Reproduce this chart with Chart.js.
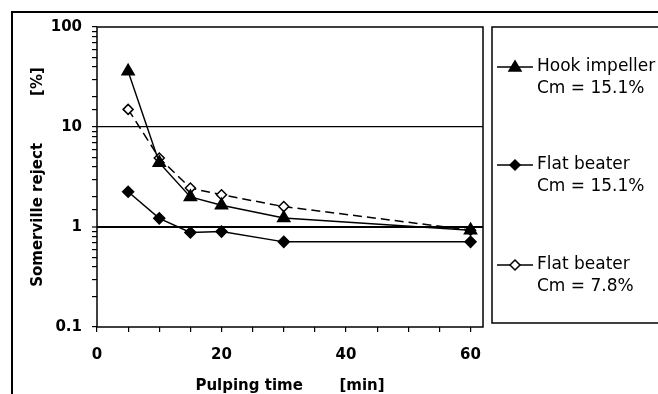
<!DOCTYPE html>
<html>
<head>
<meta charset="utf-8">
<script src="https://cdn.jsdelivr.net/npm/chart.js@4/dist/chart.umd.min.js"></script>
<style>
  html, body { margin: 0; padding: 0; background: #fff; }
  #wrap { width: 658px; height: 394px; position: relative; }
</style>
</head>
<body>
<div id="wrap"><canvas id="c" width="658" height="394"></canvas></div>
<script>
// pulping time [min]
const times = [5, 10, 15, 20, 30, 60];
// Somerville reject [%]
const hookImpeller = [36, 4.4, 2.0, 1.65, 1.23, 0.93];
const flatBeater151 = [2.25, 1.22, 0.88, 0.9, 0.71, 0.71];
const flatBeater78 = [15, 4.9, 2.45, 2.1, 1.6, 0.93];

const yMajor = [0.1, 1, 10, 100];
const xTicks = [0, 5, 10, 15, 20, 25, 30, 35, 40, 45, 50, 55, 60];
const xLabels = [0, 20, 40, 60];

const legendItems = [
  { lines: ['Hook impeller', 'Cm = 15.1%'], style: 'triangle', fill: '#000' },
  { lines: ['Flat beater', 'Cm = 15.1%'], style: 'diamond', fill: '#000' },
  { lines: ['Flat beater', 'Cm = 7.8%'], style: 'diamond', fill: '#fff' }
];

const FONT = 'DejaVu Sans';
const toXY = (ys) => times.map((t, i) => ({ x: t, y: ys[i] }));
const isMajor = (v) => yMajor.some((m) => Math.abs(v - m) < m * 1e-6);

function marker(ctx, style, fill, x, y) {
  ctx.save();
  ctx.fillStyle = fill;
  ctx.strokeStyle = '#000';
  ctx.lineWidth = 1.5;
  ctx.setLineDash([]);
  ctx.beginPath();
  if (style === 'triangle') {
    ctx.moveTo(x, y - 6); ctx.lineTo(x + 6, y + 4); ctx.lineTo(x - 6, y + 4);
  } else {
    ctx.moveTo(x, y - 5); ctx.lineTo(x + 5, y); ctx.lineTo(x, y + 5); ctx.lineTo(x - 5, y);
  }
  ctx.closePath();
  ctx.fill();
  ctx.stroke();
  ctx.restore();
}

const frames = {
  id: 'frames',
  beforeDraw(chart) {
    const ctx = chart.ctx;
    ctx.save();
    ctx.fillStyle = '#fff';
    ctx.fillRect(0, 0, chart.width, chart.height);
    ctx.restore();
  },
  afterDraw(chart) {
    const { ctx, chartArea: a } = chart;
    ctx.save();
    ctx.strokeStyle = '#000';
    // outer frame
    ctx.lineWidth = 2;
    ctx.beginPath();
    ctx.moveTo(12, 400); ctx.lineTo(12, 12); ctx.lineTo(660, 12);
    ctx.stroke();
    // plot frame
    ctx.lineWidth = 1.5;
    ctx.strokeRect(a.left, a.top, a.right - a.left, a.bottom - a.top);
    // legend box
    ctx.strokeRect(492, 27, 180, 296);
    const rows = [67, 165, 265];
    ctx.font = '17px "' + FONT + '"';
    ctx.textBaseline = 'middle';
    ctx.fillStyle = '#000';
    legendItems.forEach((it, i) => {
      const y = rows[i];
      ctx.lineWidth = 1.5;
      ctx.beginPath();
      ctx.moveTo(497, y); ctx.lineTo(533, y);
      ctx.stroke();
      marker(ctx, it.style, it.fill, 515, y);
      ctx.fillStyle = '#000';
      ctx.fillText(it.lines[0], 537, y);
      ctx.fillText(it.lines[1], 537, y + 22);
    });
    ctx.restore();
  }
};

new Chart(document.getElementById('c').getContext('2d'), {
  type: 'scatter',
  data: {
    datasets: [
      {
        label: 'Hook impeller Cm = 15.1%',
        data: toXY(hookImpeller),
        showLine: true,
        borderColor: '#000',
        backgroundColor: '#000',
        borderWidth: 1.5,
        pointStyle: 'triangle',
        pointRadius: 7,
        pointBorderColor: '#000',
        pointBackgroundColor: '#000'
      },
      {
        label: 'Flat beater Cm = 15.1%',
        data: toXY(flatBeater151),
        showLine: true,
        borderColor: '#000',
        backgroundColor: '#000',
        borderWidth: 1.5,
        pointStyle: 'rectRot',
        pointRadius: 5.5,
        pointBorderColor: '#000',
        pointBackgroundColor: '#000'
      },
      {
        label: 'Flat beater Cm = 7.8%',
        data: toXY(flatBeater78),
        showLine: true,
        borderColor: '#000',
        backgroundColor: '#fff',
        borderWidth: 1.5,
        borderDash: [9, 5],
        pointStyle: 'rectRot',
        pointRadius: 5,
        pointBorderColor: '#000',
        pointBackgroundColor: '#fff'
      }
    ]
  },
  options: {
    responsive: false,
    animation: false,
    layout: { padding: { left: 14, right: 175, top: 27, bottom: 0 } },
    plugins: { legend: { display: false }, tooltip: { enabled: false } },
    scales: {
      x: {
        type: 'linear',
        min: 0,
        max: 62,
        afterFit: (s) => { s.height = 67; },
        afterBuildTicks: (s) => { s.ticks = xTicks.map((v) => ({ value: v })); },
        border: { display: false },
        grid: { drawOnChartArea: false, drawTicks: true, tickLength: 5, color: '#000', lineWidth: 1.2 },
        ticks: {
          autoSkip: false,
          maxRotation: 0,
          padding: 14,
          color: '#000',
          font: { family: FONT, size: 15, weight: 'bold' },
          callback: (v) => (xLabels.includes(v) ? String(v) : '')
        },
        title: {
          display: true,
          text: 'Pulping time       [min]',
          color: '#000',
          padding: { top: 0, bottom: 0 },
          font: { family: FONT, size: 15, weight: 'bold', lineHeight: 1 }
        }
      },
      y: {
        type: 'logarithmic',
        min: 0.1,
        max: 100,
        afterFit: (s) => { s.width = 83; },
        border: { display: false },
        grid: {
          drawOnChartArea: true,
          drawTicks: true,
          tickLength: 5,
          color: (c) => (c.tick && (c.tick.value === 1 || c.tick.value === 10) ? '#000' : 'rgba(0,0,0,0)'),
          lineWidth: (c) => (c.tick && c.tick.value === 1 ? 2 : 1.2),
          tickColor: '#000',
          tickWidth: 1.2
        },
        ticks: {
          autoSkip: false,
          padding: 10,
          color: '#000',
          font: { family: FONT, size: 15, weight: 'bold' },
          callback: (v) => (isMajor(Number(v)) ? String(Number(v)) : '')
        },
        title: {
          display: true,
          text: 'Somerville reject         [%]',
          color: '#000',
          padding: { top: 15, bottom: 0 },
          font: { family: FONT, size: 15, weight: 'bold', lineHeight: 1.2 }
        }
      }
    }
  },
  plugins: [frames]
});
</script>
</body>
</html>
